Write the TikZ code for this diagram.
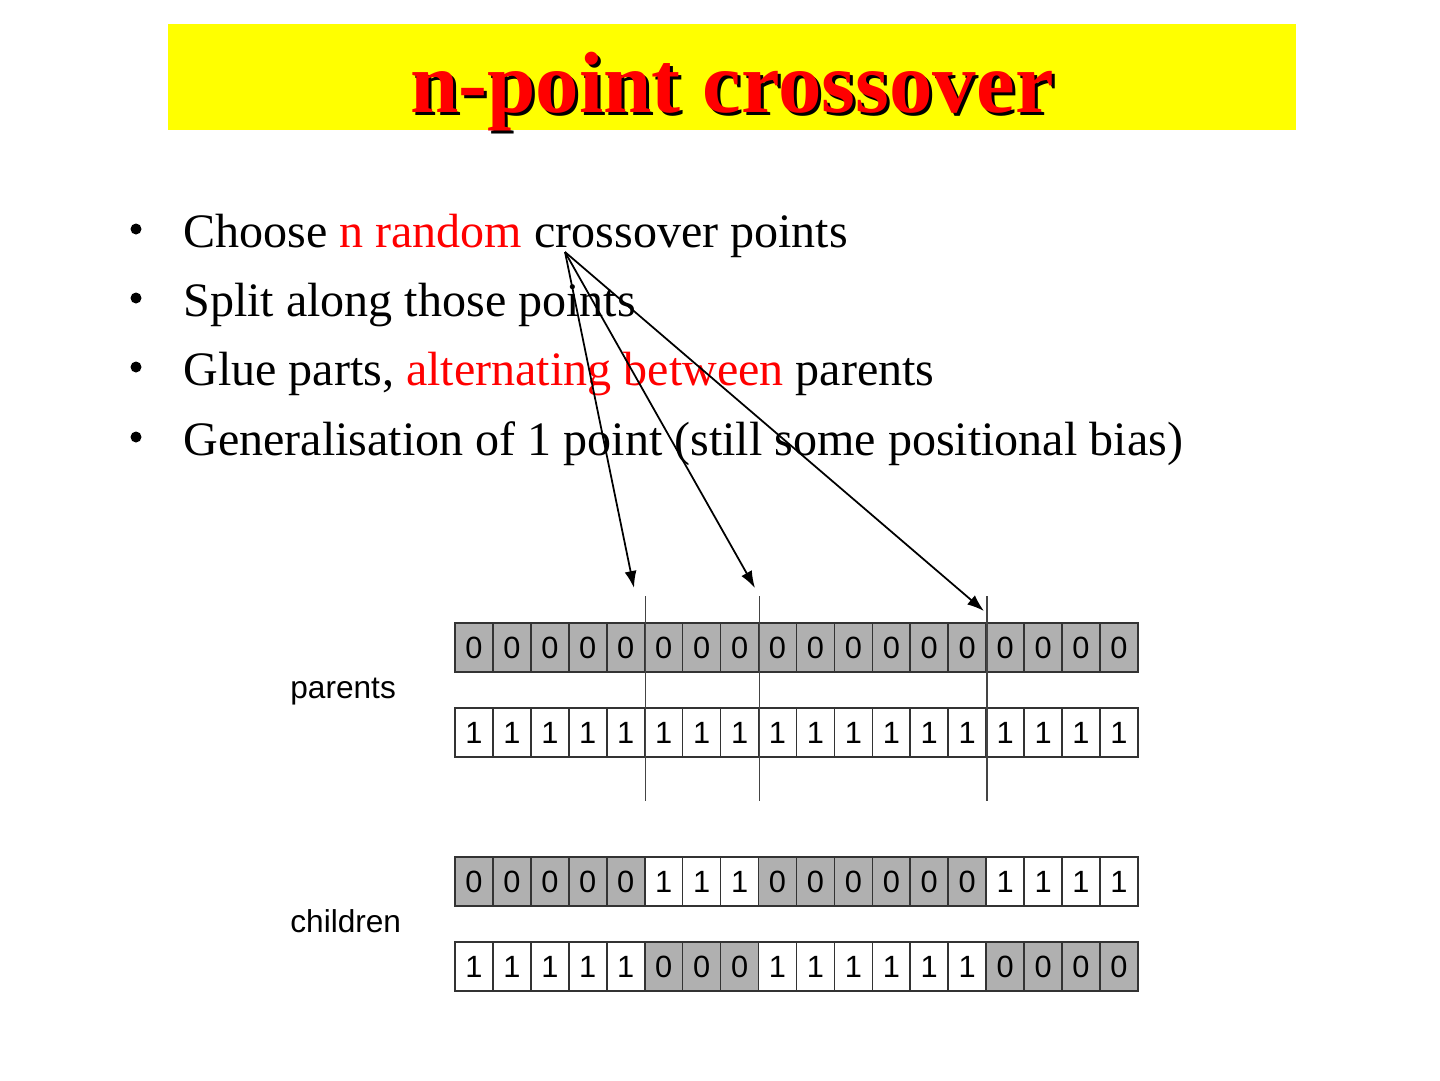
\documentclass[tikz,border=0pt]{standalone}
\usepackage{fontspec}
\setmainfont{Liberation Serif}
\newfontfamily\arialfont{Liberation Sans}
\usepackage{tikz}
\usetikzlibrary{arrows.meta,calc}
\definecolor{TitleY}{HTML}{FFFF00}
\definecolor{HiRed}{HTML}{FF0000}
\definecolor{CellG}{HTML}{B0B0B0}
\definecolor{CellEdge}{HTML}{333333}
\definecolor{CutC}{HTML}{444444}

\begin{document}
\begin{tikzpicture}[x=0.02cm,y=-0.02cm,
  titletext/.style={anchor=base,inner sep=0pt,font=\bfseries\fontsize{49.5}{56}\selectfont},
  bullettext/.style={anchor=base west,inner sep=0pt,font=\fontsize{27.35}{32}\selectfont},
  bulletdot/.style={circle,fill=black,inner sep=0pt,minimum size=0.22cm},
  grouplabel/.style={anchor=base west,inner sep=0pt,font=\arialfont\fontsize{18}{20}\selectfont},
  bitcell/.style={draw=CellEdge,line width=0.9pt,minimum width=0.7588cm,minimum height=0.98cm,
    inner sep=0pt,font=\arialfont\fontsize{17.5}{17.5}\selectfont},
  zerocell/.style={bitcell,fill=CellG},
  onecell/.style={bitcell,fill=white},
  cutline/.style={CutC,line width=0.9pt},
  ptr/.style={-{Latex[length=3.4mm,width=2.4mm]},line width=1pt}]

\useasboundingbox (0,0) rectangle (1440,1080);

% ================= title =================
\fill[TitleY] (168,24) rectangle (1296,130);
\node[titletext,text=black] (titleshadow) at (735,115) {n-point crossover};
\node[titletext,text=HiRed] (title) at (732,112) {n-point crossover};

% ================= bullet list =================
\node[bulletdot] (dot1) at (136,229) {};
\node[bulletdot] (dot2) at (136,298) {};
\node[bulletdot] (dot3) at (136,367) {};
\node[bulletdot] (dot4) at (136,437) {};
\node[bullettext] (line1) at (183,247) {Choose \textcolor{HiRed}{n random} crossover points};
\node[bullettext] (line2) at (183,316) {Split along those points};
\node[bullettext] (line3) at (183,385) {Glue parts, \textcolor{HiRed}{alternating between} parents};
\node[bullettext] (line4) at (183,455) {Generalisation of 1 point (still some positional bias)};

% ================= parents and children =================
\foreach \i in {1,...,18}{
  \pgfmathsetmacro\cx{455+(\i-0.5)*37.94}
  \pgfmathtruncatemacro\seg{(\i>5)+(\i>8)+(\i>14)}
  \pgfmathtruncatemacro\bit{mod(\seg,2)}
  \node[zerocell] (pa-\i) at (\cx,647.5) {0};
  \node[onecell] (pb-\i) at (\cx,732.5) {1};
  \ifnum\bit=0
    \node[zerocell] (ca-\i) at (\cx,881.5) {0};
    \node[onecell] (cb-\i) at (\cx,966.5) {1};
  \else
    \node[onecell] (ca-\i) at (\cx,881.5) {1};
    \node[zerocell] (cb-\i) at (\cx,966.5) {0};
  \fi}
\node[grouplabel] (parents) at (290,698) {parents};
\node[grouplabel] (children) at (290,932) {children};

% crossover points
\foreach \c in {5,8,14}{
  \draw[cutline] ($(pa-\c.north east)+(0,-26)$) -- ($(pb-\c.south east)+(0,43)$);}

% arrows from the text
\coordinate (src) at (565,252);
\coordinate (tip1) at (634,588);
\coordinate (tip2) at (755,588);
\coordinate (tip3) at (984,611);
\draw[ptr] (src) -- (tip1);
\draw[ptr] (src) -- (tip2);
\draw[ptr] (src) -- (tip3);
\end{tikzpicture}
\end{document}
